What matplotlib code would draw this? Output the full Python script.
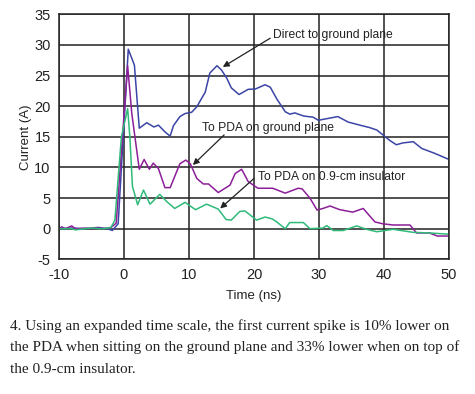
import matplotlib
matplotlib.use("Agg")
import matplotlib.pyplot as plt

# Direct to ground plane (blue)
t_direct = [-10, -8, -6, -4, -2.5, -1.8, -0.9, 0.66, 1.6, 2.35, 3.5, 4.6, 5.3, 6.3, 7.1, 7.6,
            8.6, 9.4, 10.4, 11.2, 12.5, 13.2, 14.3, 15.0, 15.8, 16.5, 17.7, 19.1, 20.2, 21.7,
            22.5, 23.5, 24.8, 25.5, 26.3, 27.6, 29.1, 29.9, 31.4, 32.9, 34.5, 36.3, 37.8,
            38.9, 40.2, 40.9, 41.9, 42.9, 44.5, 45.8, 47.8, 50]
i_direct = [0, 0.1, 0, 0.2, 0, -0.3, 0.8, 29.3, 26.7, 16.4, 17.3, 16.6, 16.9, 15.8, 15.1, 16.8,
            18.3, 18.8, 19.0, 19.9, 22.3, 25.4, 26.6, 25.9, 24.6, 23.0, 21.9, 22.75, 22.8, 23.5,
            23.1, 21.2, 19.1, 18.7, 18.9, 18.4, 18.2, 17.7, 18.0, 18.3, 17.4, 16.9, 16.5,
            16.1, 15.0, 14.4, 13.7, 14.0, 14.2, 13.1, 12.3, 11.3]

# To PDA on ground plane (purple)
t_ground = [-10, -9.6, -9, -8.05, -7.5, -7, -6, -5, -4, -3, -2, -1.2, 0.56, 1.2, 2.35, 3.1,
            3.9, 4.5, 5.3, 6.3, 7.1, 8.6, 9.5, 10.2, 11.2, 12.2, 13.0, 14.5, 16.3, 17.1, 18.1,
            19.1, 20.6, 22.9, 24.8, 26.8, 27.4, 28.6, 29.7, 30.6, 31.7, 33.2, 35.2, 36.8,
            38.6, 39.8, 41.4, 44.0, 45.0, 47.0, 48.2, 50]
i_ground = [0, 0.3, 0, 0.45, 0, 0, 0.1, 0, 0.1, 0, 0.2, 0.9, 26.6, 18.8, 9.7, 11.3,
            9.7, 10.7, 9.8, 6.7, 6.7, 10.6, 11.2, 10.6, 8.2, 7.3, 7.3, 5.9, 7.1, 9.0, 9.7,
            7.7, 6.6, 6.6, 5.8, 6.6, 6.5, 5.0, 3.05, 3.3, 3.7, 3.1, 2.7, 3.3,
            1.1, 0.8, 0.6, 0.6, -0.7, -0.7, -1.2, -1.2]

# To PDA on 0.9-cm insulator (green)
t_insul = [-10, -9, -8, -7.5, -6, -5, -4, -3, -2, -1.4, -0.4, 0.56, 0.9, 1.3, 2.1, 3.0, 4.0,
           5.5, 6.6, 7.8, 9.4, 11.0, 12.7, 14.5, 15.7, 16.5, 17.8, 18.6, 20.4, 21.7, 22.8,
           23.5, 24.8, 25.5, 27.6, 28.6, 30.6, 31.2, 32.2, 33.7, 35.8, 37.3, 38.9, 41.4,
           44.5, 47.0, 50]
i_insul = [0, 0, 0, -0.2, 0, 0.1, 0, 0, 0.2, 1.4, 15.0, 19.6, 15.0, 6.9, 3.9, 6.3, 4.0,
           5.6, 4.4, 3.3, 4.3, 3.1, 4.0, 3.2, 1.5, 1.4, 2.8, 2.9, 1.4, 1.9, 1.6,
           1.1, 0.0, 1.0, 1.0, 0.0, 0.1, 0.5, -0.3, -0.3, 0.45, -0.1, -0.5, -0.1,
           -0.6, -0.7, -0.9]

x_ticks = [-10, 0, 10, 20, 30, 40, 50]
y_ticks = [-5, 0, 5, 10, 15, 20, 25, 30, 35]

caption = [
    "4. Using an expanded time scale, the first current spike is 10% lower on",
    "the PDA when sitting on the ground plane and 33% lower when on top of",
    "the 0.9-cm insulator.",
]

plt.rcParams["font.family"] = ["Liberation Sans", "DejaVu Sans"]
plt.rcParams["axes.unicode_minus"] = False

fig = plt.figure(figsize=(4.75, 3.94), dpi=100)
ax = fig.add_axes([59 / 475, 1 - 259.3 / 394, 390 / 475, 245 / 394])

ax.plot(t_direct, i_direct, color="#3a45a5", lw=1.1)
ax.plot(t_ground, i_ground, color="#8c1f98", lw=1.1)
ax.plot(t_insul, i_insul, color="#2fba7a", lw=1.1)

ax.set_xlim(-10, 50)
ax.set_ylim(-5, 35)
ax.set_xticks(x_ticks)
ax.set_yticks(y_ticks)
ax.tick_params(length=0, pad=6, labelsize=10.5, colors="#222222")
ax.grid(True, color="#222222", lw=1.1)
ax.set_axisbelow(True)
for s in ax.spines.values():
    s.set_color("#222222")
    s.set_linewidth(1.1)

ax.set_xlabel("Time (ns)", fontsize=9.5, labelpad=6, color="#222222")
ax.set_ylabel("Current (A)", fontsize=9.5, labelpad=2, color="#222222")

arrow = dict(arrowstyle="-|>", color="#222222", lw=0.9, mutation_scale=9, shrinkA=0, shrinkB=0)
ax.annotate("", xy=(15.2, 26.4), xytext=(22.5, 31.1), arrowprops=arrow)
ax.text(22.9, 31.6, "Direct to ground plane", fontsize=8.7, va="center", ha="left", color="#222222")
ax.annotate("", xy=(10.6, 10.4), xytext=(15.4, 15.3), arrowprops=arrow)
ax.text(12.0, 16.4, "To PDA on ground plane", fontsize=8.7, va="center", ha="left", color="#222222")
ax.annotate("", xy=(14.8, 3.3), xytext=(20.0, 8.2), arrowprops=arrow)
ax.text(20.6, 8.5, "To PDA on 0.9-cm insulator", fontsize=8.7, va="center", ha="left", color="#222222")

for k, line in enumerate(caption):
    fig.text(10 / 475, 1 - (330 + 21.5 * k) / 394, line, fontsize=11,
             family="Liberation Serif", va="baseline", ha="left", color="#222222")

fig.savefig("out.png", dpi=100)
